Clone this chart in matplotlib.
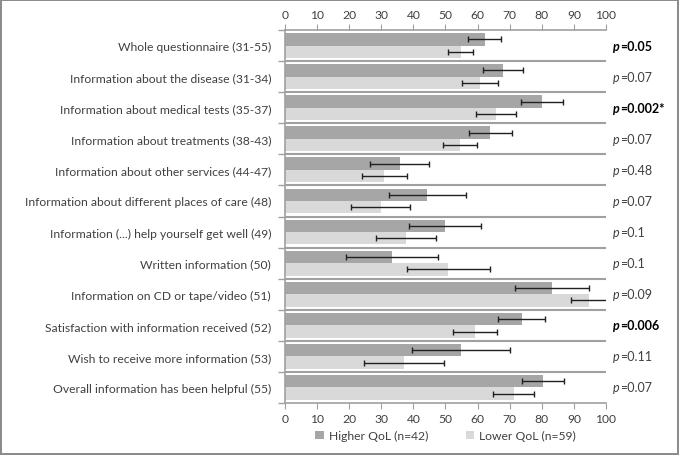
import matplotlib
matplotlib.use('Agg')
import matplotlib.pyplot as plt
from matplotlib.offsetbox import TextArea, HPacker, AnnotationBbox
import numpy as np

plt.rcParams['font.family'] = ['Lato', 'DejaVu Sans']

categories = [
    "Whole questionnaire (31-55)",
    "Information about the disease (31-34)",
    "Information about medical tests (35-37)",
    "Information about treatments (38-43)",
    "Information about other services (44-47)",
    "Information about different places of care (48)",
    "Information (...) help yourself get well (49)",
    "Written information (50)",
    "Information on CD or tape/video (51)",
    "Satisfaction with information received (52)",
    "Wish to receive more information (53)",
    "Overall information has been helpful (55)",
]
higher = [62.2, 67.8, 80.0, 63.9, 35.7, 44.3, 49.9, 33.3, 83.3, 73.8, 54.8, 80.3]
higher_err = [5.2, 6.2, 6.5, 6.7, 9.1, 12.0, 11.2, 14.4, 11.5, 7.3, 15.3, 6.5]
lower = [54.7, 60.7, 65.7, 54.6, 31.0, 29.8, 37.8, 50.9, 94.8, 59.2, 37.1, 71.2]
lower_err = [3.9, 5.6, 6.2, 5.3, 6.9, 9.3, 9.3, 12.9, 5.7, 7.0, 12.5, 6.3]
pvalues = ["=0.05", "=0.07", "=0.002*", "=0.07", "=0.48", "=0.07", "=0.1",
           "=0.1", "=0.09", "=0.006", "=0.11", "=0.07"]
significant = [True, False, True, False, False, False, False,
               False, False, True, False, False]

c_high = '#a6a6a6'
c_low = '#d9d9d9'
grey = '#a0a0a0'
txt = '#404040'

fig = plt.figure(figsize=(6.79, 4.56), dpi=100, edgecolor='#8c8c8c', linewidth=1.5)
ax = fig.add_axes([0.4197, 0.114, 0.4728, 0.818])

y = np.arange(len(categories))
ax.barh(y - 0.2, higher, height=0.4, color=c_high, label='Higher QoL (n=42)')
ax.barh(y + 0.2, lower, height=0.4, color=c_low, label='Lower QoL (n=59)')
ax.errorbar(higher, y - 0.2, xerr=higher_err, fmt='none', ecolor='#202020',
            elinewidth=1, capsize=2.2, capthick=1)
ax.errorbar(lower, y + 0.2, xerr=lower_err, fmt='none', ecolor='#202020',
            elinewidth=1, capsize=2.2, capthick=1)

# group separators
for b in np.arange(len(categories) - 1) + 0.5:
    ax.axhline(b, color=grey, lw=1.5, zorder=0)

ax.set_xlim(0, 100)
ax.set_ylim(len(categories) - 0.5, -0.5)
ax.set_xticks(range(0, 101, 10))
ax.set_yticks(y)
ax.set_yticklabels(categories, fontsize=8.7, color=txt)
ax.set_yticks(np.arange(len(categories) + 1) - 0.5, minor=True)
ax.tick_params(axis='y', which='major', length=0, pad=10)
ax.tick_params(axis='y', which='minor', length=5, color=grey, width=1)
ax.tick_params(axis='x', which='major', length=4, color=grey, labelsize=8.7,
               labelcolor=txt, top=True, labeltop=True, pad=3)
for s in ['left', 'top', 'bottom']:
    ax.spines[s].set_color(grey)
    ax.spines[s].set_linewidth(1.2)
ax.spines['right'].set_visible(False)

# p-values with italic p
for i, (pv, sig) in enumerate(zip(pvalues, significant)):
    w = 'bold' if sig else 'normal'
    col = 'black' if sig else txt
    parts = [TextArea('p', textprops=dict(style='italic', weight=w, fontsize=9, color=col)),
             TextArea(pv, textprops=dict(weight=w, fontsize=9, color=col))]
    box = HPacker(children=parts, align='baseline', pad=0, sep=0)
    ab = AnnotationBbox(box, (1.022, i), xycoords=('axes fraction', 'data'),
                        box_alignment=(0, 0.5), frameon=False, pad=0,
                        annotation_clip=False)
    ax.add_artist(ab)

leg = ax.legend(loc='center', bbox_to_anchor=(0.5, -0.088), ncol=2, frameon=False,
                fontsize=8.7, handlelength=0.7, handleheight=0.7, columnspacing=3.1,
                handletextpad=0.4)
for t in leg.get_texts():
    t.set_color(txt)

fig.savefig('out.png', dpi=100, edgecolor=fig.get_edgecolor())
